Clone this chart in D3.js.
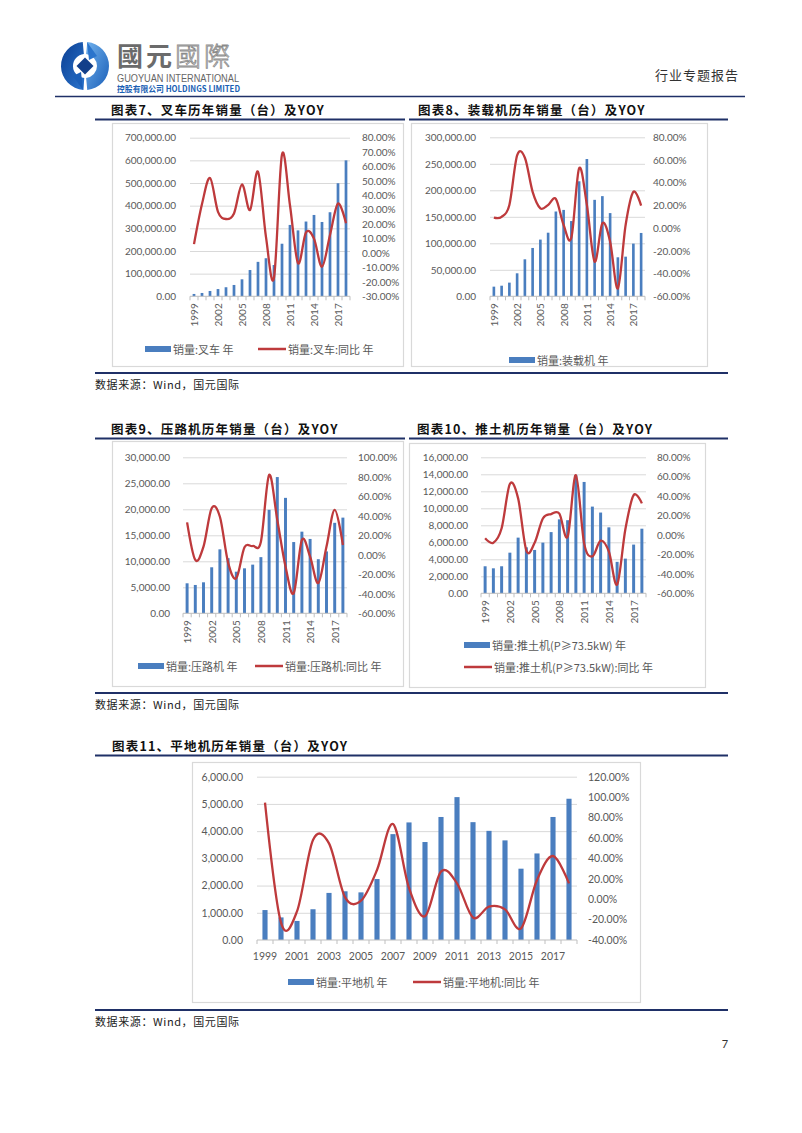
<!DOCTYPE html>
<html><head><meta charset="utf-8">
<script src="https://cdn.jsdelivr.net/npm/d3@7"></script>
<style>
html,body{margin:0;padding:0;background:#fff;}
svg{display:block;}
</style></head><body>
<svg id="page" width="802" height="1133"></svg>
<script>
// ---------------- DATA ----------------
const years = [1999,2000,2001,2002,2003,2004,2005,2006,2007,2008,2009,2010,2011,2012,2013,2014,2015,2016,2017,2018];
const rotatedTickYears = [1999,2002,2005,2008,2011,2014,2017];
const graderTickYears = [1999,2001,2003,2005,2007,2009,2011,2013,2015,2017];

const forkliftSales = [10300,14700,23500,32000,40000,50000,75000,116000,152000,168000,138000,232000,315000,291000,330000,359000,328000,371000,499000,600000];
const forkliftYoy = [0.062,0.34,0.52,0.286,0.236,0.275,0.476,0.298,0.564,0.11,-0.17,0.684,0.33,-0.07,0.143,0.10,-0.095,0.125,0.344,0.206];
const forkliftLeftTicks = [0,100000,200000,300000,400000,500000,600000,700000];
const forkliftRightTicks = [-0.30,-0.20,-0.10,0,0.10,0.20,0.30,0.40,0.50,0.60,0.70,0.80];

const loaderSales = [18200,20000,25800,43400,69800,91200,107000,120000,160000,163000,142000,217000,259000,182000,189000,157000,73600,74800,99400,119500];
const loaderYoy = [0.093,0.10,0.204,0.64,0.62,0.32,0.175,0.204,0.257,0.028,-0.083,0.527,0.205,-0.295,0.043,-0.119,-0.53,0.028,0.32,0.199];
const loaderLeftTicks = [0,50000,100000,150000,200000,250000,300000];
const loaderRightTicks = [-0.60,-0.40,-0.20,0,0.20,0.40,0.60,0.80];

const rollerSales = [5770,5450,5960,8850,12300,10600,8000,8650,9360,10800,19900,26200,22200,13700,15700,14300,10400,11900,17400,18400];
const rollerYoy = [0.333,-0.053,0.084,0.477,0.39,-0.08,-0.24,0.077,0.09,0.135,0.819,0.357,-0.12,-0.395,0.152,-0.019,-0.29,0.084,0.46,0.10];
const rollerLeftTicks = [0,5000,10000,15000,20000,25000,30000];
const rollerRightTicks = [-0.60,-0.40,-0.20,0,0.20,0.40,0.60,0.80,1.00];

const dozerSales = [3180,2940,3180,4780,6550,5410,5100,5960,7200,8700,8600,13900,13100,10200,9500,7760,3700,4080,5730,7600];
const dozerYoy = [-0.034,-0.079,0.069,0.525,0.377,-0.16,-0.08,0.17,0.216,0.22,-0.017,0.617,-0.086,-0.22,-0.058,-0.17,-0.51,0.06,0.41,0.326];
const dozerLeftTicks = [0,2000,4000,6000,8000,10000,12000,14000,16000];
const dozerRightTicks = [-0.60,-0.40,-0.20,0,0.20,0.40,0.60,0.80];

const graderSales = [1100,830,700,1130,1730,1790,1750,2240,3890,4320,3600,4520,5250,4330,4010,3660,2620,3180,4520,5190];
const graderYoy = [0.945,-0.23,-0.12,0.58,0.547,0.02,-0.015,0.286,0.736,0.11,-0.167,0.27,0.155,-0.18,-0.073,-0.10,-0.286,0.188,0.423,0.155];
const graderLeftTicks = [0,1000,2000,3000,4000,5000,6000];
const graderRightTicks = [-0.40,-0.20,0,0.20,0.40,0.60,0.80,1.00,1.20];

// ---------------- STYLE ----------------
const BAR = '#4a7ebf';
const LINE = '#be3a3c';
const AXIS_TEXT = '#595959';
const GRID = '#d9d9d9';
const NAVY = '#1f3067';
const NUM_FONT = 'Lato, "Noto Sans", sans-serif';
const CJK_FONT = '"Noto Sans CJK SC", "Noto Sans", sans-serif';

const svg = d3.select('#page');
const fmtNum = d3.format(',.2f');
const fmtPct = v => (Math.round(v * 10000) / 100).toFixed(2) + '%';

// ---------------- HEADER ----------------
(function header() {
  const g = svg.append('g').attr('transform', 'translate(85,66)');
  const arc = d3.arc().innerRadius(12).outerRadius(24);
  const defs = svg.append('defs');
  const lg = defs.append('linearGradient').attr('id', 'lg1').attr('x1', '0').attr('y1', '0').attr('x2', '1').attr('y2', '1');
  lg.append('stop').attr('offset', '0').attr('stop-color', '#6fb0ec');
  lg.append('stop').attr('offset', '1').attr('stop-color', '#1b5fb8');
  const lg2 = defs.append('linearGradient').attr('id', 'lg2').attr('x1', '0').attr('y1', '0').attr('x2', '1').attr('y2', '1');
  lg2.append('stop').attr('offset', '0').attr('stop-color', '#0c3f93');
  lg2.append('stop').attr('offset', '1').attr('stop-color', '#2a74cc');
  g.append('path').attr('d', arc({startAngle: Math.PI * 1.02, endAngle: Math.PI * 1.97})).attr('fill', 'url(#lg2)');
  g.append('path').attr('d', arc({startAngle: Math.PI * 0.03, endAngle: Math.PI * 0.97})).attr('fill', 'url(#lg1)');
  g.append('path').attr('d', 'M-2,24 L-12,10 L-4,6 Z').attr('fill', '#1b5fb8');
  g.append('path').attr('d', 'M2,-24 L12,-10 L4,-6 Z').attr('fill', '#2a74cc');
  g.append('rect').attr('x', -6).attr('y', -6).attr('width', 12).attr('height', 12)
    .attr('transform', 'rotate(45)').attr('fill', '#123f8a');

  svg.append('text').attr('x', 117).attr('y', 66).attr('font-family', '"Noto Sans CJK TC", sans-serif')
    .attr('font-size', 26).attr('letter-spacing', 3)
    .call(t => {
      t.append('tspan').attr('fill', '#6b6b6b').attr('font-weight', 700).text('國元');
      t.append('tspan').attr('fill', '#fff').attr('stroke', '#8a8a8a').attr('stroke-width', 0.8).attr('font-weight', 300).text('國際');
    });
  svg.append('text').attr('x', 117).attr('y', 82).attr('font-family', '"Liberation Sans", sans-serif')
    .attr('font-size', 10).attr('fill', '#666').attr('textLength', 122).attr('lengthAdjust', 'spacingAndGlyphs')
    .text('GUOYUAN INTERNATIONAL');
  svg.append('text').attr('x', 117).attr('y', 92).attr('font-family', CJK_FONT)
    .attr('font-size', 8.5).attr('font-weight', 700).attr('fill', '#1a5fb4').attr('textLength', 123).attr('lengthAdjust', 'spacingAndGlyphs')
    .text('控股有限公司 HOLDINGS LIMITED');
  svg.append('text').attr('x', 655).attr('y', 74).attr('dominant-baseline', 'central')
    .attr('font-family', CJK_FONT).attr('font-size', 13).attr('letter-spacing', 1).attr('fill', '#333')
    .text('行业专题报告');
  svg.append('line').attr('x1', 55).attr('x2', 745).attr('y1', 96.5).attr('y2', 96.5)
    .attr('stroke', NAVY).attr('stroke-width', 1.5);
  svg.append('text').attr('x', 725).attr('y', 1043).attr('dominant-baseline', 'central').attr('text-anchor', 'middle')
    .attr('font-family', NUM_FONT).attr('font-size', 11).attr('fill', '#333').text('7');
})();

function sectionTitle(x, y, text, lx0, lx1) {
  svg.append('text').attr('x', x).attr('y', y).attr('dominant-baseline', 'central')
    .attr('font-family', CJK_FONT).attr('font-weight', 700).attr('font-size', 12.5)
    .attr('letter-spacing', 1.2).attr('fill', '#111').text(text);
  svg.append('line').attr('x1', lx0).attr('x2', lx1).attr('y1', y + 10.5).attr('y2', y + 10.5)
    .attr('stroke', NAVY).attr('stroke-width', 2);
}
function sourceBlock(y) {
  svg.append('line').attr('x1', 95).attr('x2', 728).attr('y1', y).attr('y2', y)
    .attr('stroke', NAVY).attr('stroke-width', 2.2);
  svg.append('text').attr('x', 95).attr('y', y + 10.5).attr('dominant-baseline', 'central')
    .attr('font-family', CJK_FONT).attr('font-size', 11).attr('fill', '#222').attr('letter-spacing', 0.6)
    .text('数据来源：Wind，国元国际');
}

// ---------------- CHART FUNCTION ----------------
function drawChart(cfg) {
  const g = svg.append('g');
  g.append('rect').attr('x', cfg.box[0] + 0.5).attr('y', cfg.box[1] + 0.5)
    .attr('width', cfg.box[2] - cfg.box[0]).attr('height', cfg.box[3] - cfg.box[1])
    .attr('fill', '#fff').attr('stroke', '#d9d9d9').attr('stroke-width', 1.2);

  const x = d3.scaleBand().domain(cfg.years).range([cfg.px0, cfg.px1]).paddingInner(cfg.pad).paddingOuter(cfg.pad / 2);
  const yL = d3.scaleLinear().domain([cfg.leftTicks[0], cfg.leftTicks[cfg.leftTicks.length - 1]]).range([cfg.pyB, cfg.pyT]);
  const yR = d3.scaleLinear().domain([cfg.rightTicks[0], cfg.rightTicks[cfg.rightTicks.length - 1]]).range([cfg.pyB, cfg.pyT]);

  const grid = g.append('g').attr('transform', `translate(${cfg.px0},0)`)
    .call(d3.axisLeft(yL).tickValues(cfg.leftTicks.slice(1)).tickSize(-(cfg.px1 - cfg.px0)).tickFormat(''));
  grid.select('.domain').remove();
  grid.selectAll('line').attr('stroke', GRID).attr('stroke-width', 1);

  const la = g.append('g').attr('transform', `translate(${cfg.leftX},0)`)
    .call(d3.axisLeft(yL).tickValues(cfg.leftTicks).tickFormat(fmtNum).tickSize(0).tickPadding(0));
  la.select('.domain').remove();
  la.selectAll('text').attr('font-family', NUM_FONT).attr('font-size', cfg.fs).attr('fill', AXIS_TEXT);

  const ra = g.append('g').attr('transform', `translate(${cfg.rightX},0)`)
    .call(d3.axisRight(yR).tickValues(cfg.rightTicks).tickFormat(fmtPct).tickSize(0).tickPadding(0));
  ra.select('.domain').remove();
  ra.selectAll('text').attr('font-family', NUM_FONT).attr('font-size', cfg.fs).attr('fill', AXIS_TEXT);

  g.append('g').selectAll('rect').data(cfg.sales).join('rect')
    .attr('x', (d, i) => x(cfg.years[i]))
    .attr('width', x.bandwidth())
    .attr('y', d => yL(d))
    .attr('height', d => yL(0) - yL(d))
    .attr('fill', BAR);

  const xa = g.append('g').attr('transform', `translate(0,${yL(0)})`);
  xa.append('line').attr('x1', cfg.px0).attr('x2', cfg.px1).attr('stroke', '#bfbfbf').attr('stroke-width', 1);
  const step = x.step();
  xa.selectAll('line.tk').data(d3.range(cfg.years.length + 1)).join('line').attr('class', 'tk')
    .attr('x1', i => cfg.px0 + i * step).attr('x2', i => cfg.px0 + i * step)
    .attr('y1', 0).attr('y2', 4).attr('stroke', '#bfbfbf');

  if (cfg.rotate) {
    g.append('g').selectAll('text').data(cfg.tickYears).join('text')
      .attr('transform', d => `translate(${x(d) + x.bandwidth() / 2},${yL(0) + 7}) rotate(-90)`)
      .attr('text-anchor', 'end').attr('dominant-baseline', 'central')
      .attr('font-family', NUM_FONT).attr('font-size', cfg.fs).attr('fill', AXIS_TEXT)
      .text(d => d);
  } else {
    g.append('g').selectAll('text').data(cfg.tickYears).join('text')
      .attr('x', d => x(d) + x.bandwidth() / 2).attr('y', yL(0) + 16)
      .attr('text-anchor', 'middle').attr('dominant-baseline', 'central')
      .attr('font-family', NUM_FONT).attr('font-size', cfg.fs).attr('fill', AXIS_TEXT)
      .text(d => d);
  }

  const line = d3.line()
    .x((d, i) => x(cfg.years[i]) + x.bandwidth() / 2)
    .y(d => yR(d))
    .curve(d3.curveCatmullRom.alpha(0));
  g.append('path').attr('d', line(cfg.yoy)).attr('fill', 'none')
    .attr('stroke', LINE).attr('stroke-width', 2.3).attr('stroke-linejoin', 'round');

  cfg.legend.forEach(it => {
    if (it.type === 'bar') {
      g.append('rect').attr('x', it.x).attr('y', it.y - 3).attr('width', 26).attr('height', 6).attr('fill', BAR);
    } else {
      g.append('line').attr('x1', it.x).attr('x2', it.x + 28).attr('y1', it.y).attr('y2', it.y)
        .attr('stroke', LINE).attr('stroke-width', 2.5);
    }
    g.append('text').attr('x', it.x + (it.type === 'bar' ? 28 : 30)).attr('y', it.y)
      .attr('dominant-baseline', 'central').attr('font-family', CJK_FONT)
      .attr('font-size', it.fs || 11).attr('fill', AXIS_TEXT).text(it.label);
  });
}

// ---------------- SECTION 1 ----------------
sectionTitle(111, 109, '图表7、叉车历年销量（台）及YOY', 95, 405);
sectionTitle(418, 109, '图表8、装载机历年销量（台）及YOY', 409, 728);

drawChart({
  box: [112, 123, 403, 366], years, sales: forkliftSales, yoy: forkliftYoy,
  leftTicks: forkliftLeftTicks, rightTicks: forkliftRightTicks,
  px0: 190, px1: 350, pyT: 137.7, pyB: 296.3, leftX: 176, rightX: 362, pad: 0.66, fs: 10,
  rotate: true, tickYears: rotatedTickYears,
  legend: [
    {type: 'bar', x: 145, y: 349, label: '销量:叉车 年'},
    {type: 'line', x: 258, y: 349, label: '销量:叉车:同比 年'}
  ]
});
drawChart({
  box: [411, 123, 707, 366], years, sales: loaderSales, yoy: loaderYoy,
  leftTicks: loaderLeftTicks, rightTicks: loaderRightTicks,
  px0: 490, px1: 645, pyT: 137.3, pyB: 296.3, leftX: 476, rightX: 653, pad: 0.66, fs: 10,
  rotate: true, tickYears: rotatedTickYears,
  legend: [
    {type: 'bar', x: 509, y: 360, label: '销量:装载机 年'}
  ]
});
sourceBlock(373);

// ---------------- SECTION 2 ----------------
sectionTitle(111, 428, '图表9、压路机历年销量（台）及YOY', 95, 405);
sectionTitle(417, 428, '图表10、推土机历年销量（台）及YOY', 409, 728);

drawChart({
  box: [112, 441, 403, 686], years, sales: rollerSales, yoy: rollerYoy,
  leftTicks: rollerLeftTicks, rightTicks: rollerRightTicks,
  px0: 183, px1: 347, pyT: 457.3, pyB: 613.3, leftX: 170, rightX: 358, pad: 0.64, fs: 10,
  rotate: true, tickYears: rotatedTickYears,
  legend: [
    {type: 'bar', x: 138, y: 666, label: '销量:压路机 年'},
    {type: 'line', x: 255, y: 666, label: '销量:压路机:同比 年'}
  ]
});
drawChart({
  box: [409, 443, 705, 687], years, sales: dozerSales, yoy: dozerYoy,
  leftTicks: dozerLeftTicks, rightTicks: dozerRightTicks,
  px0: 481, px1: 646, pyT: 457.3, pyB: 593.3, leftX: 468, rightX: 657, pad: 0.64, fs: 10,
  rotate: true, tickYears: rotatedTickYears,
  legend: [
    {type: 'bar', x: 464, y: 645, label: '销量:推土机(P≥73.5kW) 年'},
    {type: 'line', x: 464, y: 667, label: '销量:推土机(P≥73.5kW):同比 年'}
  ]
});
sourceBlock(693);

// ---------------- SECTION 3 ----------------
sectionTitle(112, 745, '图表11、平地机历年销量（台）及YOY', 95, 728);
drawChart({
  box: [192, 762, 640, 1002], years, sales: graderSales, yoy: graderYoy,
  leftTicks: graderLeftTicks, rightTicks: graderRightTicks,
  px0: 257, px1: 577, pyT: 776.7, pyB: 940, leftX: 243, rightX: 588, pad: 0.68, fs: 10.5,
  rotate: false, tickYears: graderTickYears,
  legend: [
    {type: 'bar', x: 288, y: 982, label: '销量:平地机 年'},
    {type: 'line', x: 413, y: 982, label: '销量:平地机:同比 年'}
  ]
});
sourceBlock(1010);
</script>
</body></html>
